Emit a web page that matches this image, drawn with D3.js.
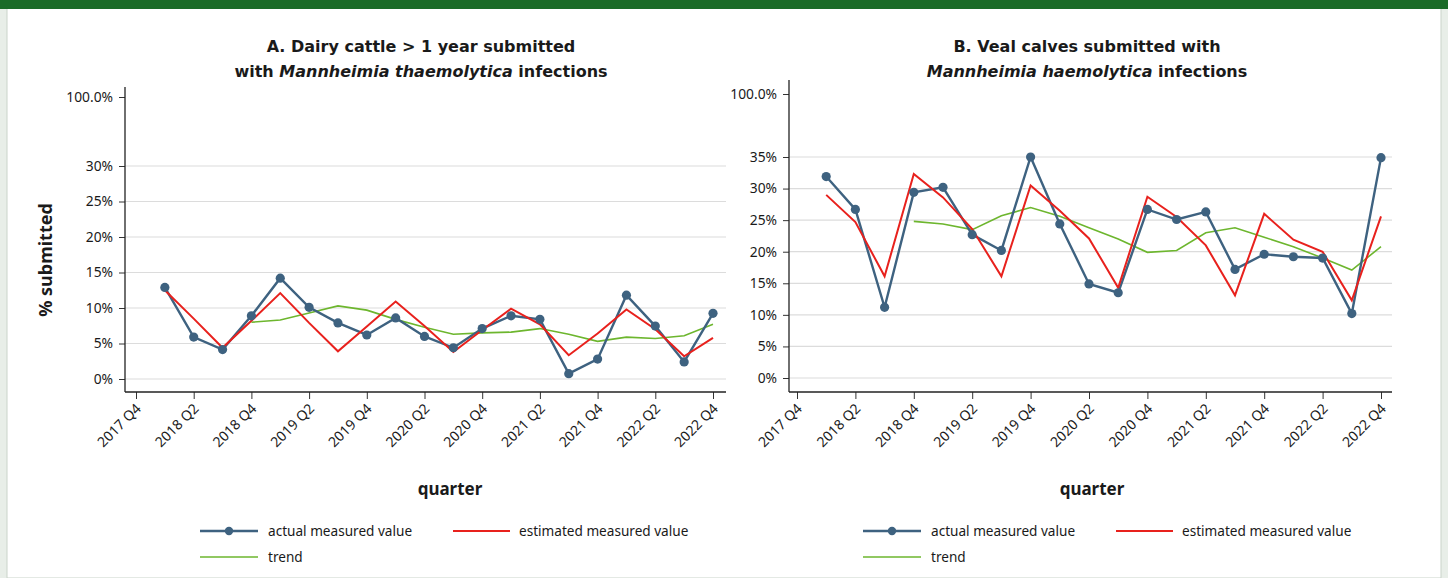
<!DOCTYPE html>
<html>
<head>
<meta charset="utf-8">
<script src="https://cdn.jsdelivr.net/npm/d3@7"></script>
<style>
  html, body { margin: 0; padding: 0; background: #e8eee8; }
  svg { display: block; }
  text { font-family: "Noto Sans", "DejaVu Sans", sans-serif; fill: #1a1a1a; }
</style>
</head>
<body>
<svg id="chart" width="1448" height="578"></svg>
<script>
// ---- data ----
const quarters = ["2017 Q4",
  "2018 Q1","2018 Q2","2018 Q3","2018 Q4",
  "2019 Q1","2019 Q2","2019 Q3","2019 Q4",
  "2020 Q1","2020 Q2","2020 Q3","2020 Q4",
  "2021 Q1","2021 Q2","2021 Q3","2021 Q4",
  "2022 Q1","2022 Q2","2022 Q3","2022 Q4"];
const tickLabels = ["2017 Q4","2018 Q2","2018 Q4","2019 Q2","2019 Q4","2020 Q2","2020 Q4","2021 Q2","2021 Q4","2022 Q2","2022 Q4"];
const dataQuarters = quarters.slice(1);
const trendQuarters = quarters.slice(4);

// Panel A: dairy cattle > 1 year (%)
const actualA    = [12.9, 5.9, 4.15, 8.9, 14.2, 10.1, 7.9, 6.2, 8.6, 6.0, 4.4, 7.1, 8.9, 8.4, 0.75, 2.8, 11.8, 7.45, 2.4, 9.25];
const estimatedA = [12.5, 8.5, 4.4, 8.2, 12.1, 7.9, 3.9, 7.4, 10.9, 7.45, 3.8, 6.9, 9.9, 7.7, 3.35, 6.4, 9.8, 7.0, 3.2, 5.8];
const trendA     = [8.0, 8.3, 9.3, 10.3, 9.7, 8.4, 7.3, 6.3, 6.5, 6.6, 7.1, 6.3, 5.3, 5.9, 5.7, 6.1, 7.7];
const yTicksA    = [0, 5, 10, 15, 20, 25, 30, 100];

// Panel B: veal calves (%)
const actualB    = [31.9, 26.7, 11.2, 29.4, 30.2, 22.7, 20.2, 35.0, 24.4, 14.9, 13.5, 26.7, 25.1, 26.3, 17.2, 19.6, 19.2, 19.0, 10.2, 34.9];
const estimatedB = [29.0, 24.7, 16.1, 32.3, 28.6, 23.6, 16.1, 30.5, 26.5, 22.1, 14.3, 28.7, 25.5, 21.0, 13.1, 26.0, 21.9, 20.0, 12.3, 25.6];
const trendB     = [24.8, 24.4, 23.5, 25.7, 27.0, 25.6, 23.8, 22.0, 19.9, 20.2, 23.0, 23.8, 22.3, 20.8, 19.0, 17.1, 20.8];
const yTicksB    = [0, 5, 10, 15, 20, 25, 30, 35, 100];

const colors = { actual: "#3e6280", estimated: "#e8211d", trend: "#6db62e" };

const svg = d3.select("#chart");

// page frame
svg.append("rect").attr("x", 7).attr("y", 0).attr("width", 1434).attr("height", 578)
  .attr("fill", "#ffffff").attr("stroke", "#c9d3c9");
svg.append("rect").attr("x", 0).attr("y", 0).attr("width", 1448).attr("height", 9).attr("fill", "#1b6b28");

function drawPanel(cfg) {
  const x = d3.scalePoint().domain(quarters).range(cfg.xRange);
  const y = d3.scaleLinear().domain(cfg.yDomain).range(cfg.yRange);
  const g = svg.append("g");

  // gridlines
  g.selectAll("line.grid").data(cfg.yTicks.filter(v => v < 100)).join("line")
    .attr("x1", cfg.axisX).attr("x2", cfg.gridEnd)
    .attr("y1", d => y(d)).attr("y2", d => y(d))
    .attr("stroke", "#dcdcdc").attr("stroke-width", 1.2);

  // y axis
  const yAxis = d3.axisLeft(y).tickValues(cfg.yTicks)
    .tickFormat(d => d === 100 ? "100.0%" : d + "%").tickSize(6).tickPadding(6);
  const ya = g.append("g").attr("transform", `translate(${cfg.axisX},0)`).call(yAxis);
  ya.select(".domain").remove();
  ya.append("line").attr("x1", 0).attr("x2", 0).attr("y1", cfg.axisTop).attr("y2", cfg.axisBottom)
    .attr("stroke", "#222").attr("stroke-width", 1.3);
  ya.selectAll(".tick line").attr("stroke", "#333");
  ya.selectAll(".tick text").style("font-size", "13.8px").attr("fill", "#222");

  // x axis
  const xAxis = d3.axisBottom(x).tickValues(tickLabels).tickSize(7).tickPadding(3);
  const xa = g.append("g").attr("transform", `translate(0,${cfg.axisBottom})`).call(xAxis);
  xa.select(".domain").remove();
  xa.append("line").attr("x1", cfg.axisX).attr("x2", cfg.gridEnd).attr("y1", 0).attr("y2", 0)
    .attr("stroke", "#222").attr("stroke-width", 1.3);
  xa.selectAll(".tick line").attr("stroke", "#333");
  xa.selectAll(".tick text").style("font-size", "14px").attr("fill", "#222")
    .attr("text-anchor", "end").attr("x", 0).attr("y", 0).attr("dy", "0.35em")
    .attr("transform", "translate(2,14) rotate(-45)");

  // lines
  const line = (qs) => d3.line().x((d, i) => x(qs[i])).y(d => y(d));
  g.append("path").datum(cfg.trend).attr("d", line(trendQuarters))
    .attr("fill", "none").attr("stroke", colors.trend).attr("stroke-width", 1.6);
  g.append("path").datum(cfg.actual).attr("d", line(dataQuarters))
    .attr("fill", "none").attr("stroke", colors.actual).attr("stroke-width", 2.4);
  g.append("path").datum(cfg.estimated).attr("d", line(dataQuarters))
    .attr("fill", "none").attr("stroke", colors.estimated).attr("stroke-width", 2);
  g.selectAll("circle.pt").data(cfg.actual).join("circle")
    .attr("cx", (d, i) => x(dataQuarters[i])).attr("cy", d => y(d))
    .attr("r", 4.6).attr("fill", colors.actual);

  // title
  const t = g.append("text").attr("text-anchor", "middle")
    .style("font-family", "'DejaVu Sans', sans-serif")
    .style("font-size", "16px").style("font-weight", "bold");
  cfg.title.forEach((lineParts, li) => {
    const ts = t.append("tspan").attr("x", cfg.titleX).attr("y", cfg.titleY + li * 25);
    lineParts.forEach((p, pi) => {
      const s = pi === 0 ? ts : t.append("tspan");
      s.text(p.t);
      if (p.i) s.style("font-style", "italic");
    });
  });

  // x axis title
  g.append("text").attr("x", cfg.xTitleX).attr("y", 495).attr("text-anchor", "middle")
    .style("font-size", "17px").style("font-weight", "bold").text("quarter");

  // legend
  const lg = g.append("g").style("font-size", "13.6px");
  const L = cfg.legendX;
  lg.append("line").attr("x1", L).attr("x2", L + 58).attr("y1", 531).attr("y2", 531)
    .attr("stroke", colors.actual).attr("stroke-width", 2.4);
  lg.append("circle").attr("cx", L + 29).attr("cy", 531).attr("r", 4.2).attr("fill", colors.actual);
  lg.append("text").attr("x", L + 68).attr("y", 531).attr("dy", "0.35em").text("actual measured value");
  lg.append("line").attr("x1", L + 253).attr("x2", L + 310).attr("y1", 531).attr("y2", 531)
    .attr("stroke", colors.estimated).attr("stroke-width", 2);
  lg.append("text").attr("x", L + 319).attr("y", 531).attr("dy", "0.35em").text("estimated measured value");
  lg.append("line").attr("x1", L).attr("x2", L + 58).attr("y1", 557).attr("y2", 557)
    .attr("stroke", colors.trend).attr("stroke-width", 1.6);
  lg.append("text").attr("x", L + 68).attr("y", 557).attr("dy", "0.35em").text("trend");
}

drawPanel({
  xRange: [136, 713], axisX: 125, gridEnd: 726, axisTop: 87, axisBottom: 392,
  yDomain: [0, 30, 100], yRange: [379, 166, 97], yTicks: yTicksA,
  actual: actualA, estimated: estimatedA, trend: trendA,
  title: [[{t: "A. Dairy cattle > 1 year submitted"}], [{t: "with "}, {t: "Mannheimia thaemolytica", i: true}, {t: " infections"}]],
  titleX: 421, titleY: 52, xTitleX: 450, legendX: 200
});

drawPanel({
  xRange: [797, 1381], axisX: 789, gridEnd: 1392, axisTop: 80, axisBottom: 392,
  yDomain: [0, 35, 100], yRange: [378, 157, 94], yTicks: yTicksB,
  actual: actualB, estimated: estimatedB, trend: trendB,
  title: [[{t: "B. Veal calves submitted with"}], [{t: "Mannheimia haemolytica", i: true}, {t: " infections"}]],
  titleX: 1087, titleY: 52, xTitleX: 1092, legendX: 863
});

// y axis title (shared, left)
svg.append("text").attr("transform", "translate(52,260) rotate(-90)").attr("text-anchor", "middle")
  .style("font-size", "18px").style("font-weight", "bold").text("% submitted");
</script>
</body>
</html>
